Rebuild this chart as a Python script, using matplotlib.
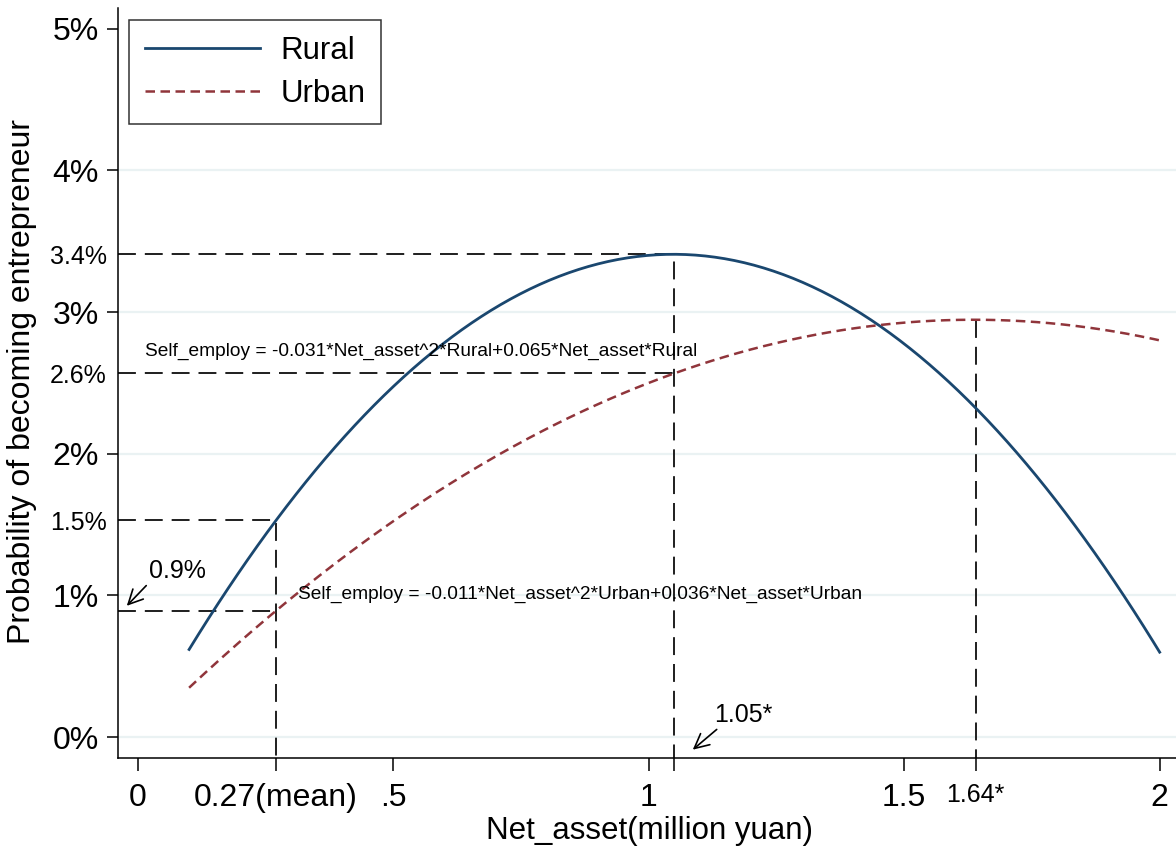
import numpy as np
import matplotlib.pyplot as plt

plt.rcParams['font.family'] = ['Liberation Sans', 'DejaVu Sans']

# quadratic coefficients of the two models (a*x^2 + b*x, as a share)
rural_coef = [-0.031, 0.065]
urban_coef = [-0.011, 0.036]
asset_range = [0.1, 2.0]

# marked net asset values
mean_asset = 0.27
rural_top = 1.05
urban_top = 1.64

y_major = [0, 1, 2, 3, 4, 5]
y_major_labels = ['0%', '1%', '2%', '3%', '4%', '5%']
x_major = [0, 0.27, 0.5, 1, 1.5, 2]
x_major_labels = ['0', '0.27(mean)', '.5', '1', '1.5', '2']

navy = '#1a476f'
maroon = '#90353b'
ref_color = '#1e1e1e'


def pct(coef, x):
    return 100 * (coef[0] * np.asarray(x) ** 2 + coef[1] * np.asarray(x))


fig = plt.figure(figsize=(11.76, 8.49), dpi=100)
ax = fig.add_axes([118 / 1176, 1 - 758 / 849, 1 - 118 / 1176, 750 / 849])
ax.set_xlim(-0.0392, 2.032)
ax.set_ylim(-0.1467, 5.145)

for g in y_major[:-1]:
    ax.axhline(g, color='#eaf2f3', lw=1.6, zorder=0)

xs = np.linspace(asset_range[0], asset_range[1], 300)
ax.plot(xs, pct(rural_coef, xs), color=navy, lw=2.0, label='Rural', zorder=3)
ax.plot(xs, pct(urban_coef, xs), color=maroon, lw=1.8, dashes=(3.8, 2.2),
        label='Urban', zorder=3)

# reference lines at the mean and at the turning points
r_mean = pct(rural_coef, mean_asset)
u_mean = pct(urban_coef, mean_asset)
r_top = pct(rural_coef, rural_top)
u_at_rtop = pct(urban_coef, rural_top)
u_top = pct(urban_coef, urban_top)
x0, y0 = ax.get_xlim()[0], ax.get_ylim()[0]
ref = dict(color=ref_color, lw=1.4, dashes=(9.2, 4.6), zorder=2)
ax.plot([x0, mean_asset, mean_asset], [r_mean, r_mean, y0], **ref)
ax.plot([x0, mean_asset], [u_mean, u_mean], **ref)
ax.plot([x0, rural_top, rural_top], [r_top, r_top, y0], **ref)
ax.plot([x0, rural_top], [u_at_rtop, u_at_rtop], **ref)
ax.plot([urban_top, urban_top], [u_top, y0], **ref)

# ticks
ax.set_yticks(y_major)
ax.set_yticklabels(y_major_labels, fontsize=23)
ax.set_yticks([r_mean, u_at_rtop, r_top], minor=True)
ax.set_yticklabels(['1.5%', '2.6%', '3.4%'], minor=True, fontsize=18)
ax.tick_params(axis='y', which='major', length=8, width=1.1, pad=6)
ax.tick_params(axis='y', which='minor', length=0, pad=8)

ax.set_xticks(x_major)
ax.set_xticklabels(x_major_labels, fontsize=23)
ax.set_xticks([rural_top, urban_top], minor=True)
ax.set_xticklabels(['', '1.64*'], minor=True, fontsize=18)
ax.tick_params(axis='x', which='both', length=9, width=1.1, pad=9)

for side in ['top', 'right']:
    ax.spines[side].set_visible(False)
for side in ['left', 'bottom']:
    ax.spines[side].set_linewidth(1.1)

fig.text(650 / 1176, 1 - 839 / 849, 'Net_asset(million yuan)', fontsize=22.5,
         ha='center', va='baseline')
fig.text(22 / 1176, 1 - 381 / 849, 'Probability of becoming entrepreneur',
         fontsize=23, rotation=90, ha='center', va='center')

# model equations
ax.text(0.0137, 2.72, 'Self_employ = -0.031*Net_asset^2*Rural+0.065*Net_asset*Rural',
        fontsize=13.8, va='center')
ax.text(0.313, 1.006, 'Self_employ = -0.011*Net_asset^2*Urban+0.036*Net_asset*Urban',
        fontsize=13.8, va='center')

arrow = dict(arrowstyle='->', color='black', lw=1.2, mutation_scale=26,
             shrinkA=0, shrinkB=0)
ax.annotate('0.9%', xy=(-0.022, 0.927), xytext=(0.077, 1.174), fontsize=18,
            ha='center', va='center', arrowprops=dict(arrow, relpos=(0.0, 0.0)))
ax.annotate('1.05*', xy=(1.086, -0.088), xytext=(1.185, 0.159), fontsize=18,
            ha='center', va='center', arrowprops=dict(arrow, relpos=(0.1, 0.0)))

leg = ax.legend(loc='upper left', bbox_to_anchor=(129 / 1176, 1 - 20 / 849),
                bbox_transform=fig.transFigure, fontsize=22.5, handlelength=3.7,
                frameon=True, fancybox=False, borderaxespad=0, borderpad=0.5,
                labelspacing=0.42, handletextpad=0.65)
leg.get_frame().set_edgecolor('black')
leg.get_frame().set_linewidth(1.1)

fig.savefig('out.png', dpi=100)
